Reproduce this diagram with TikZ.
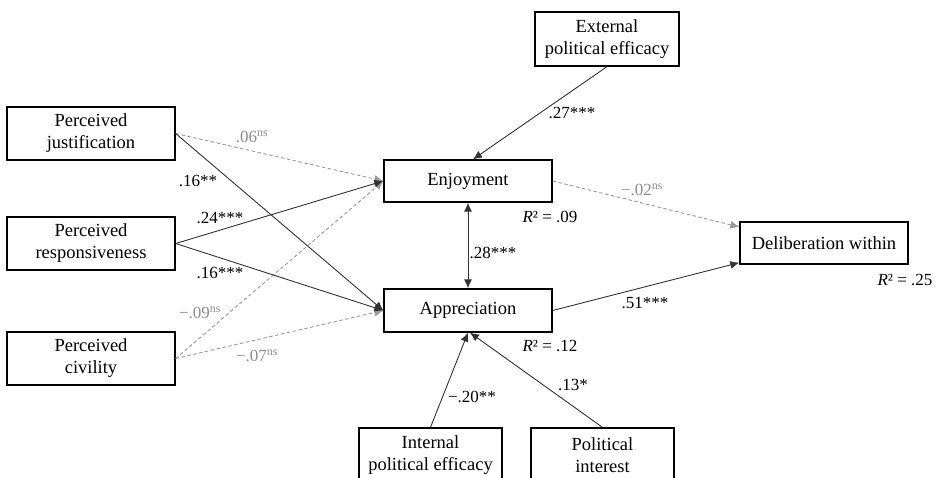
\documentclass[tikz,border=0pt]{standalone}
\usepackage{fontspec}
\setmainfont{Liberation Serif}
\usetikzlibrary{arrows.meta}
\begin{document}
\begin{tikzpicture}[x=1pt,y=-1pt,
  box/.style={draw=black, line width=1.3pt, rectangle, inner sep=0pt, align=center,
    font=\fontsize{18.5}{22}\selectfont},
  sig/.style={draw=black!80, line width=0.9pt, -{Latex[length=9pt,width=8pt]}},
  nsig/.style={draw=black!40, line width=0.9pt, dash pattern=on 3.5pt off 2.5pt,
    -{Latex[length=9pt,width=8pt]}},
  lab/.style={font=\fontsize{17}{19}\selectfont, inner sep=1pt},
  nslab/.style={lab, text=black!45}]
\useasboundingbox (0,0) rectangle (937,478);
\clip (0,0) rectangle (937,478);

% boxes
\node[box, minimum width=168pt, minimum height=53pt] (just) at (91,133.5) {Perceived\\justification};
\node[box, minimum width=168pt, minimum height=53pt] (resp) at (91,243.5) {Perceived\\responsiveness};
\node[box, minimum width=168pt, minimum height=53pt] (civ) at (91,358.5) {Perceived\\civility};
\node[box, minimum width=144pt, minimum height=54pt] (ext) at (607,39) {External\\political efficacy};
\node[box, minimum width=168pt, minimum height=42pt] (enj) at (468,181) {Enjoyment};
\node[box, minimum width=168pt, minimum height=43pt] (app) at (468,310.5) {Appreciation};
\node[box, minimum width=168pt, minimum height=42pt] (del) at (824,243) {Deliberation within};
\node[box, minimum width=143pt, minimum height=54pt] (int) at (430.5,455) {Internal\\political efficacy};
\node[box, minimum width=143pt, minimum height=54pt] (pol) at (602.5,455) {Political\\interest};

% paths
\draw[nsig] (just.east) -- (enj.west);
\draw[nsig] (civ.east) -- (enj.west);
\draw[nsig] (civ.east) -- (app.west);
\draw[nsig] (enj.east) -- ([yshift=16pt]del.west);
\draw[sig] (just.east) -- (app.west);
\draw[sig] (resp.east) -- (enj.west);
\draw[sig] (resp.east) -- (app.west);
\draw[sig] (ext.south) -- ([xshift=5pt]enj.north);
\draw[sig, {Latex[length=9pt,width=8pt]}-{Latex[length=9pt,width=8pt]}] (enj.south) -- (app.north);
\draw[sig] (int.north) -- (app.south);
\draw[sig] (pol.north) -- ([xshift=2pt]app.south);
\draw[sig] (app.east) -- ([yshift=2pt]del.south west);

% labels
\node[nslab] (l1) at (252,137) {.06\textsuperscript{ns}};
\node[lab] (l2) at (198,181) {.16**};
\node[lab] (l3) at (220,218) {.24***};
\node[lab] (l4) at (220,273) {.16***};
\node[nslab] (l5) at (200,313) {−.09\textsuperscript{ns}};
\node[nslab] (l6) at (257,356) {−.07\textsuperscript{ns}};
\node[lab] (l7) at (572,113) {.27***};
\node[lab] (l8) at (493,253) {.28***};
\node[nslab] (l9) at (642,190) {−.02\textsuperscript{ns}};
\node[lab] (l10) at (645,303) {.51***};
\node[lab] (l11) at (472,397) {−.20**};
\node[lab] (l12) at (573,385) {.13*};
\node[lab] (r1) at (550,217) {\textit{R}² = .09};
\node[lab] (r2) at (550,346) {\textit{R}² = .12};
\node[lab] (r3) at (905,280) {\textit{R}² = .25};
\end{tikzpicture}
\end{document}
